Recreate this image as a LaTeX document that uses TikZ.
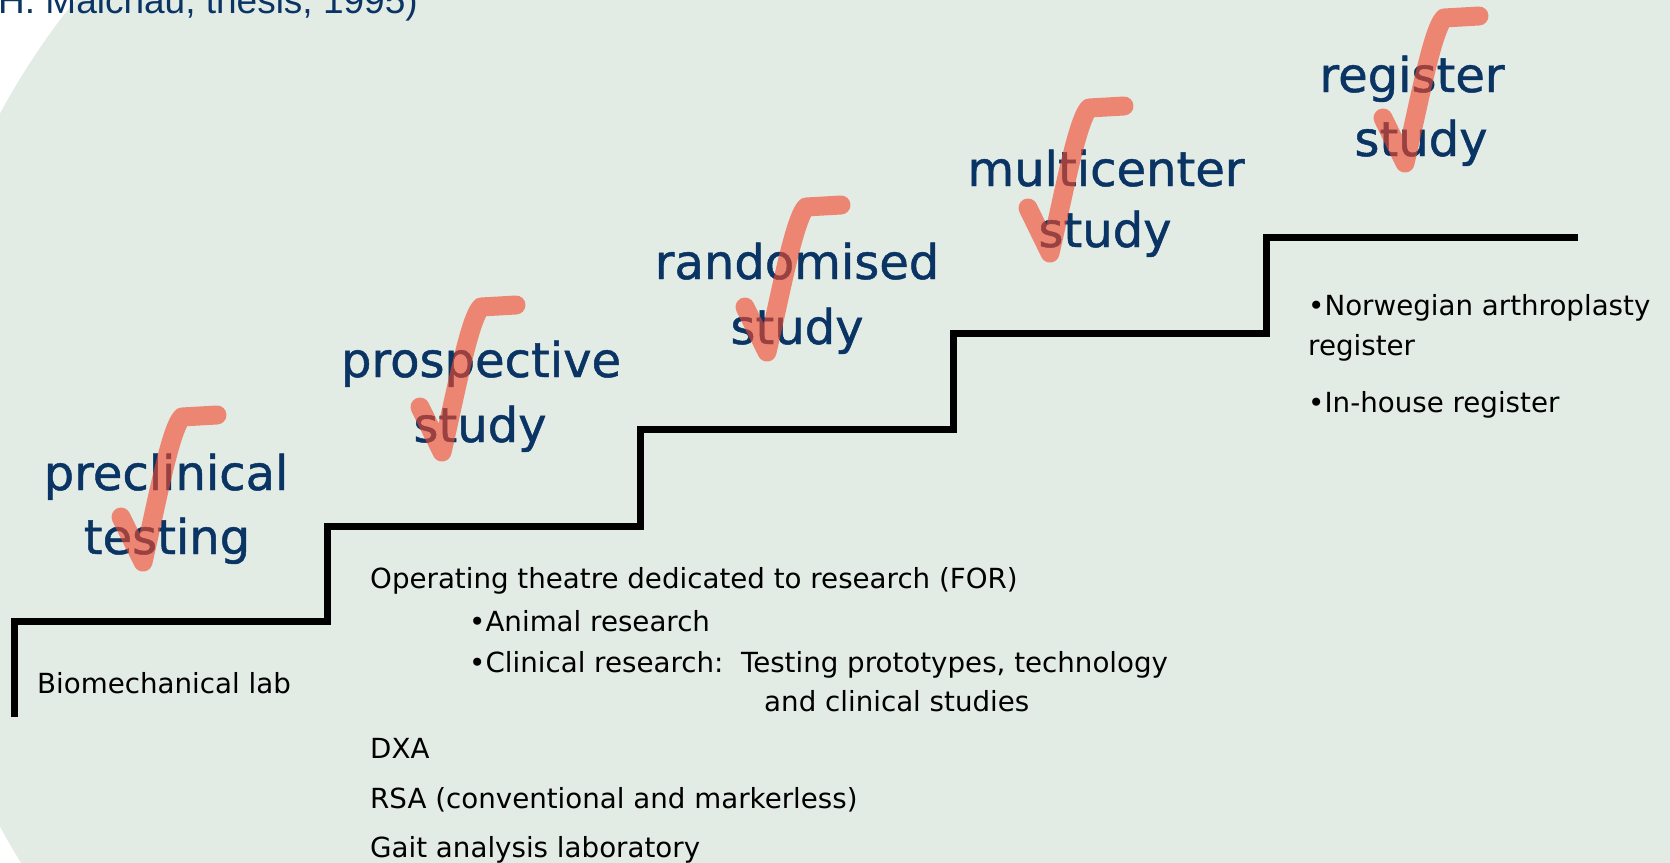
\documentclass[tikz,border=0pt]{standalone}
\usepackage{fontspec}
\setmainfont{DejaVu Sans}
\newfontfamily\citefont{Liberation Sans}
\newfontfamily\handfont[FakeBold=1]{DejaVu Sans}
\definecolor{bgc}{RGB}{227,235,229}
\definecolor{navy}{RGB}{10,52,100}
\definecolor{chkc}{RGB}{242,72,45}
\begin{document}
\begin{tikzpicture}[x=1pt,y=-1pt,
  lbl/.style={text=navy, font=\handfont\fontsize{48}{58}\selectfont, anchor=base, inner sep=0pt},
  body/.style={text=black, font=\fontsize{27.7}{33}\selectfont, anchor=base west, inner sep=0pt},
  stair/.style={draw=black, line width=7pt, line join=miter},
  chkstroke/.style={draw=chkc, line width=19pt, line cap=round, line join=round, draw opacity=0.62},
  chk/.pic={\draw[chkstroke] (-22,-45) -- (0,0) .. controls (14,-60) and (27,-132) .. (39,-145) -- (74,-147);}]
\path[use as bounding box] (0,0) rectangle (1670,862);
\clip (0,0) rectangle (1670,862);
\fill[white] (0,0) rectangle (1670,862);
\fill[bgc] (660,470) circle[radius=750];
\fill[bgc] (660,-10) rectangle (1680,872);

\node[font=\citefont\fontsize{37}{44}\selectfont, text=navy, anchor=base west, inner sep=0pt] (cite) at (-2,13) {H. Malchau, thesis, 1995)};

\draw[stair] (14,717) -- (14,621) -- (327,621) -- (327,526) -- (640,526) -- (640,429) -- (953,429) -- (953,333) -- (1266,333) -- (1266,237) -- (1578,237);

\node[lbl] (l1a) at (166,490) {preclinical};
\node[lbl] (l1b) at (167,554) {testing};
\node[lbl] (l2a) at (481,377) {prospective};
\node[lbl] (l2b) at (480,442) {study};
\node[lbl] (l3a) at (797,279) {randomised};
\node[lbl] (l3b) at (797,344) {study};
\node[lbl] (l4a) at (1106,186) {multicenter};
\node[lbl] (l4b) at (1105,247) {study};
\node[lbl] (l5a) at (1412,92) {register};
\node[lbl] (l5b) at (1421,156) {study};

\pic at (143,562) {chk};
\pic at (442,452) {chk};
\pic at (767,352) {chk};
\pic at (1050,253) {chk};
\pic at (1405,163) {chk};

\node[body] (bio) at (37,693) {Biomechanical lab};
\node[body] (op) at (370,588) {Operating theatre dedicated to research (FOR)};
\node[body] (an) at (469,631) {•Animal research};
\node[body] (cl) at (469,672) {•Clinical research:\ \ Testing prototypes, technology};
\node[body] (cl2) at (764,711) {and clinical studies};
\node[body] (dxa) at (370,758) {DXA};
\node[body] (rsa) at (370,808) {RSA (conventional and markerless)};
\node[body] (gait) at (370,857) {Gait analysis laboratory};
\node[body] (nor) at (1308,315) {•Norwegian arthroplasty};
\node[body] (reg) at (1308,355) {register};
\node[body] (inh) at (1308,412) {•In-house register};
\end{tikzpicture}
\end{document}
